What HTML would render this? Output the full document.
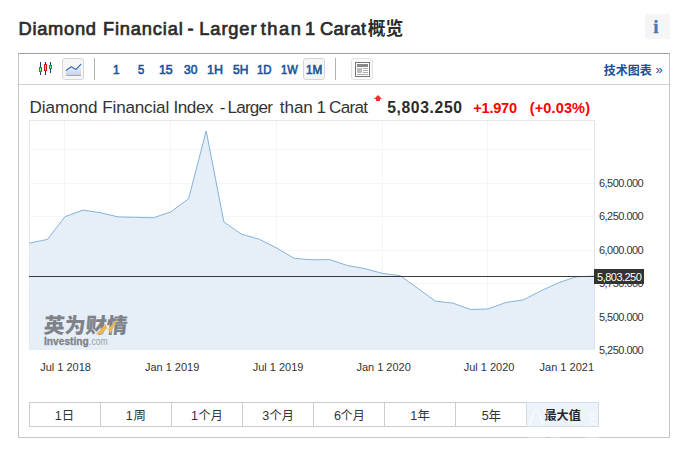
<!DOCTYPE html>
<html lang="zh"><head><meta charset="utf-8"><title>Diamond Financial - Larger than 1 Carat</title>
<style>
html,body{margin:0;padding:0;background:#fff}
body{width:686px;height:453px;position:relative;overflow:hidden;font-family:"Liberation Sans",sans-serif;color:#333}
.abs,.cjk,.yl,.xl,.rb{position:absolute}
.cjk{overflow:visible;display:block}
.cjk text{font-family:"Liberation Sans","Noto Sans CJK SC",sans-serif}
h1{margin:0;font-size:inherit;font-weight:inherit}
.w{position:absolute;line-height:40px;white-space:nowrap}
.info{left:645px;top:14px;width:25px;height:25px;background:#f5f5f5;border-radius:2px}
.info span{position:absolute;left:0;top:0.3px;width:22px;font-family:"Liberation Serif",serif;font-weight:bold;font-size:19px;line-height:25px;text-align:center;color:#4877b4;-webkit-text-stroke:0.3px #4877b4}
.box{left:18px;top:53px;width:650px;height:383px;border:1px solid #c6c6c6;border-top-color:#a0a0a0}
.tbar{left:19px;top:54px;width:650px;height:30px;border-bottom:1px solid #cfcfcf}
.btn{top:58px;width:20px;height:20px;border:1px solid #d6d6d6;border-radius:3px;background:#f6f6f6}
.sep{top:58px;width:1px;height:22px;background:#b0b0b0}
.yl{left:599px;font-size:11px;line-height:14px;color:#333;white-space:nowrap;letter-spacing:-0.53px}
.xl{top:360px;width:80px;text-align:center;font-size:11px;line-height:14px;color:#333;white-space:nowrap}
.plabel{left:593.6px;top:269px;width:50.4px;height:14.3px;padding-top:0.7px;background:#333;color:#fff;font-size:11px;line-height:15px;text-indent:3.5px;white-space:nowrap;letter-spacing:-0.53px;overflow:hidden}
.rb{top:402px;height:23px;border:1px solid #ccc;border-right:none;background:#fff}
.rb.sel{background:#edf3fb;border:1px solid #d6dce6}
</style></head>
<body>
<h1><span class="w" style="left:18.54px;top:8.76px;font-weight:normal;font-size:18.3px;letter-spacing:0.720px;color:#2b2b2b;-webkit-text-stroke:0.68px #2b2b2b">Diamond</span>
<span class="w" style="left:102.94px;top:8.76px;font-weight:normal;font-size:18.3px;letter-spacing:0.840px;color:#2b2b2b;-webkit-text-stroke:0.68px #2b2b2b">Financial</span>
<span class="w" style="left:187.55px;top:8.76px;font-weight:normal;font-size:18.3px;letter-spacing:0.000px;color:#2b2b2b;-webkit-text-stroke:0.68px #2b2b2b">-</span>
<span class="w" style="left:199.34px;top:8.76px;font-weight:normal;font-size:18.3px;letter-spacing:0.864px;color:#2b2b2b;-webkit-text-stroke:0.68px #2b2b2b">Larger</span>
<span class="w" style="left:260.74px;top:8.76px;font-weight:normal;font-size:18.3px;letter-spacing:1.507px;color:#2b2b2b;-webkit-text-stroke:0.68px #2b2b2b">than</span>
<span class="w" style="left:304.90px;top:8.76px;font-weight:normal;font-size:18.3px;letter-spacing:0.000px;color:#2b2b2b;-webkit-text-stroke:0.68px #2b2b2b">1</span>
<span class="w" style="left:319.94px;top:8.76px;font-weight:normal;font-size:18.3px;letter-spacing:0.330px;color:#2b2b2b;-webkit-text-stroke:0.68px #2b2b2b">Carat</span></h1>
<svg class="cjk" role="img" aria-label="概览" style="left:366.30px;top:18.10px" width="38.40" height="20.20" viewBox="0 0 38.40 20.20"><text x="1.7" y="16.6" font-size="17.8" font-weight="bold" fill="#2b2b2b">概览</text></svg>
<div class="abs info"><span>i</span></div>
<div class="abs box"></div>
<div class="abs tbar"></div>

<svg class="abs" style="left:38px;top:61px" width="16" height="16" viewBox="38 61 16 16" shape-rendering="crispEdges">
<rect x="40" y="62" width="1" height="13" fill="#1d3a6e"/><rect x="45" y="62" width="1" height="13" fill="#1d3a6e"/><rect x="50" y="62" width="1" height="11" fill="#1d3a6e"/>
<rect x="39" y="67" width="3" height="5" fill="#13a013"/><rect x="40" y="68" width="1" height="3" fill="#9be39b"/>
<rect x="44" y="64" width="3" height="7" fill="#d01818"/><rect x="45" y="65" width="1" height="5" fill="#f4a0a0"/>
<rect x="49" y="65" width="3" height="4" fill="#13a013"/><rect x="50" y="66" width="1" height="2" fill="#9be39b"/>
</svg>

<div class="abs btn" style="left:62px"></div>
<svg class="abs" style="left:62px;top:58px" width="22" height="22" viewBox="62 58 22 22">
<defs><linearGradient id="ag" x1="0" y1="0" x2="0" y2="1"><stop offset="0" stop-color="#f4f6fc"/><stop offset="1" stop-color="#c6d3ef"/></linearGradient></defs>
<path d="M66 70.4 L71.2 66.9 L76 69.6 L81 64.4 L81 75 L66 75 Z" fill="url(#ag)"/>
<rect x="66" y="75" width="15" height="1" fill="#a8a8a8"/>
<path d="M66.2 70.2 L71.2 66.8 L76 69.4 L80.8 64.4" fill="none" stroke="#3568b2" stroke-width="1.15" stroke-linecap="round" stroke-linejoin="round"/>
</svg>
<div class="abs sep" style="left:94px"></div>

<div class="abs btn" style="left:303px"></div>
<span class="w" style="left:113.03px;top:50.43px;font-weight:normal;font-size:13.2px;letter-spacing:0.000px;color:#1b5398;-webkit-text-stroke:0.65px #1b5398;transform:scaleX(0.8917);transform-origin:0 0">1</span>
<span class="w" style="left:138.32px;top:50.43px;font-weight:normal;font-size:13.2px;letter-spacing:0.000px;color:#1b5398;-webkit-text-stroke:0.65px #1b5398;transform:scaleX(0.8500);transform-origin:0 0">5</span>
<span class="w" style="left:159.19px;top:50.43px;font-weight:normal;font-size:13.2px;letter-spacing:0.000px;color:#1b5398;-webkit-text-stroke:0.65px #1b5398;transform:scaleX(0.9346);transform-origin:0 0">15</span>
<span class="w" style="left:183.92px;top:50.43px;font-weight:normal;font-size:13.2px;letter-spacing:0.000px;color:#1b5398;-webkit-text-stroke:0.65px #1b5398;transform:scaleX(0.9107);transform-origin:0 0">30</span>
<span class="w" style="left:207.28px;top:50.43px;font-weight:normal;font-size:13.2px;letter-spacing:0.000px;color:#1b5398;-webkit-text-stroke:0.65px #1b5398;transform:scaleX(0.9433);transform-origin:0 0">1H</span>
<span class="w" style="left:232.72px;top:50.43px;font-weight:normal;font-size:13.2px;letter-spacing:0.000px;color:#1b5398;-webkit-text-stroke:0.65px #1b5398;transform:scaleX(0.9094);transform-origin:0 0">5H</span>
<span class="w" style="left:257.16px;top:50.43px;font-weight:normal;font-size:13.2px;letter-spacing:0.000px;color:#1b5398;-webkit-text-stroke:0.65px #1b5398;transform:scaleX(0.8656);transform-origin:0 0">1D</span>
<span class="w" style="left:280.78px;top:50.43px;font-weight:normal;font-size:13.2px;letter-spacing:0.000px;color:#1b5398;-webkit-text-stroke:0.65px #1b5398;transform:scaleX(0.8447);transform-origin:0 0">1W</span>
<span class="w" style="left:306.03px;top:50.43px;font-weight:normal;font-size:13.2px;letter-spacing:0.000px;color:#1b5398;-webkit-text-stroke:0.65px #1b5398;transform:scaleX(0.8912);transform-origin:0 0">1M</span>
<div class="abs sep" style="left:335px"></div>
<div class="abs btn" style="left:351px;border-color:#e2e2e2;background:#fafafa"></div>
<svg class="abs" style="left:355px;top:62px" width="15" height="15" viewBox="355 62 15 15" shape-rendering="crispEdges">
<rect x="355.5" y="62.5" width="14" height="14" fill="#fff" stroke="#777" stroke-width="1"/>
<rect x="357" y="64" width="11" height="3" fill="#8a8a8a"/>
<rect x="357" y="68" width="5" height="5" fill="#bdbdbd"/>
<rect x="363" y="68" width="5" height="1" fill="#aaa"/><rect x="363" y="70" width="5" height="1" fill="#aaa"/><rect x="363" y="72" width="5" height="1" fill="#aaa"/>
<rect x="357" y="74" width="11" height="1" fill="#aaa"/>
</svg>

<svg class="cjk" role="img" aria-label="技术图表" style="left:601.60px;top:62.50px" width="51.30" height="15.40" viewBox="0 0 51.30 15.40"><text x="1.7" y="12.3" font-size="12" font-weight="bold" fill="#17519a">技术图表</text></svg>
<span class="abs" style="left:655.5px;top:62.4px;font-size:13px;line-height:16px;color:#1b4f91">»</span>

<div class="hdw"><span class="w" style="left:29.60px;top:88.07px;font-weight:normal;font-size:17.1px;letter-spacing:-0.083px;color:#333">Diamond</span>
<span class="w" style="left:102.30px;top:88.07px;font-weight:normal;font-size:17.1px;letter-spacing:-0.187px;color:#333">Financial</span>
<span class="w" style="left:173.50px;top:88.07px;font-weight:normal;font-size:17.1px;letter-spacing:-0.450px;color:#333">Index</span>
<span class="w" style="left:219.70px;top:88.07px;font-weight:normal;font-size:17.1px;letter-spacing:0.000px;color:#333">-</span>
<span class="w" style="left:227.60px;top:88.07px;font-weight:normal;font-size:17.1px;letter-spacing:-0.820px;color:#333">Larger</span>
<span class="w" style="left:279.80px;top:88.07px;font-weight:normal;font-size:17.1px;letter-spacing:-0.067px;color:#333">than</span>
<span class="w" style="left:316.40px;top:88.07px;font-weight:normal;font-size:17.1px;letter-spacing:0.000px;color:#333">1</span>
<span class="w" style="left:329.00px;top:88.07px;font-weight:normal;font-size:17.1px;letter-spacing:-0.700px;color:#333">Carat</span>
<span class="w" style="left:387.20px;top:87.86px;font-weight:bold;font-size:15.7px;letter-spacing:0.625px;color:#2b2b2b">5,803.250</span>
<span class="w" style="left:473.20px;top:88.24px;font-weight:bold;font-size:14.6px;letter-spacing:-0.220px;color:#f00">+1.970</span>
<span class="w" style="left:529.80px;top:88.24px;font-weight:bold;font-size:14.6px;letter-spacing:0.086px;color:#f00">(+0.03%)</span></div>
<svg class="abs" style="left:374px;top:95px" width="8" height="6" viewBox="0 0 8 6"><path d="M4 0 L8 3.9 L6 3.9 L6 6 L2 6 L2 3.9 L0 3.9 Z" fill="#ee2f2f"/></svg>

<svg class="abs" style="left:0;top:0" width="686" height="453" viewBox="0 0 686 453">
<path d="M29.5 350 V120.5 H594.5" fill="none" stroke="#e4e7ee" stroke-width="1"/>
<g shape-rendering="crispEdges"><rect x="29" y="149" width="565" height="1" fill="#f4f5f7"/><rect x="29" y="183" width="565" height="1" fill="#f4f5f7"/><rect x="29" y="216" width="565" height="1" fill="#f4f5f7"/><rect x="29" y="250" width="565" height="1" fill="#f4f5f7"/><rect x="29" y="283" width="565" height="1" fill="#f4f5f7"/><rect x="29" y="317" width="565" height="1" fill="#f4f5f7"/><rect x="64" y="121" width="1" height="229" fill="#f4f5f7"/><rect x="170" y="121" width="1" height="229" fill="#f4f5f7"/><rect x="276" y="121" width="1" height="229" fill="#f4f5f7"/><rect x="382" y="121" width="1" height="229" fill="#f4f5f7"/><rect x="487" y="121" width="1" height="229" fill="#f4f5f7"/></g>
<path d="M29.5 243.1 L47.5 239.4 L65.0 216.7 L83.0 210.1 L100.4 212.7 L118.0 216.9 L135.6 217.3 L153.4 217.8 L171.0 211.8 L188.6 198.8 L206.2 130.9 L223.9 222.0 L241.5 234.2 L259.2 239.2 L276.8 248.1 L294.4 258.4 L312.1 259.8 L329.7 259.6 L347.3 265.5 L364.9 268.7 L382.6 273.4 L400.2 275.7 L417.8 288.4 L435.4 301.1 L453.0 303.2 L470.6 309.5 L488.2 309.0 L505.8 302.5 L523.4 299.9 L541.0 290.8 L558.6 282.7 L576.2 276.8 L594.0 276.1 L595 276.1 L595 350 L29 350 L29 243.2 Z" fill="#dfe9f5" fill-opacity="0.78"/>
<path d="M29.5 243.1 L47.5 239.4 L65.0 216.7 L83.0 210.1 L100.4 212.7 L118.0 216.9 L135.6 217.3 L153.4 217.8 L171.0 211.8 L188.6 198.8 L206.2 130.9 L223.9 222.0 L241.5 234.2 L259.2 239.2 L276.8 248.1 L294.4 258.4 L312.1 259.8 L329.7 259.6 L347.3 265.5 L364.9 268.7 L382.6 273.4 L400.2 275.7 L417.8 288.4 L435.4 301.1 L453.0 303.2 L470.6 309.5 L488.2 309.0 L505.8 302.5 L523.4 299.9 L541.0 290.8 L558.6 282.7 L576.2 276.8 L594.0 276.1" fill="none" stroke="#84b3dc" stroke-width="1" stroke-linejoin="round"/>
<rect x="594" y="120" width="1" height="230" fill="#dfe4ed" shape-rendering="crispEdges"/>
<rect x="29" y="276" width="566" height="1" fill="#3a3a3a" shape-rendering="crispEdges"/>
</svg>
<div class="yl" style="top:176px">6,500.000</div><div class="yl" style="top:209px">6,250.000</div><div class="yl" style="top:243px">6,000.000</div><div class="yl" style="top:276px">5,750.000</div><div class="yl" style="top:310px">5,500.000</div><div class="yl" style="top:343px">5,250.000</div>
<div class="abs plabel">5,803.250</div>
<div class="xl" style="left:25.6px">Jul 1 2018</div><div class="xl" style="left:132.1px">Jan 1 2019</div><div class="xl" style="left:238.1px">Jul 1 2019</div><div class="xl" style="left:343.6px">Jan 1 2020</div><div class="xl" style="left:449.1px">Jul 1 2020</div><div class="xl" style="left:514px;text-align:right">Jan 1 2021</div>

<svg class="cjk" role="img" aria-label="英为财情" style="left:43.4px;top:311.8px;" width="84.32" height="27.82" viewBox="0 0 84.32 27.82"><text transform="translate(2.0 0) skewX(-5) translate(0 21.4)" x="0" y="0" font-size="21" font-weight="900" fill="#7f8288">英为财情</text></svg>
<svg class="abs" style="left:94px;top:316px" width="26" height="20" viewBox="94 316 26 20"><path d="M96 334.5 L105.5 324 L108 329.5 L118 317.8 L110.5 333.5 L107.3 328 L101.5 334.5 Z" fill="#e9b755"/></svg>
<span class="w" style="left:44.15px;top:320.53px;font-weight:bold;font-size:10.6px;letter-spacing:0.000px;color:#808389;-webkit-text-stroke:0.3px #808389;transform:scaleX(0.9630);transform-origin:0 0">Investing</span>
<span class="w" style="left:88.99px;top:320.53px;font-weight:normal;font-size:10.6px;letter-spacing:0.000px;color:#9a9ea5;transform:scaleX(0.8091);transform-origin:0 0">.com</span>

<div class="rb" style="left:29px;width:70px"></div><svg class="cjk" role="img" aria-label="日" style="left:62.10px;top:409.00px" width="12.70" height="13.60" viewBox="0 0 12.70 13.60"><text x="-0.3" y="10.8" font-size="12.5" fill="#333">日</text></svg><div class="rb" style="left:100px;width:70px"></div><svg class="cjk" role="img" aria-label="周" style="left:131.70px;top:407.80px" width="14.50" height="15.10" viewBox="0 0 14.50 15.10"><text x="1.6" y="12" font-size="12.4" fill="#333">周</text></svg><div class="rb" style="left:171px;width:70px"></div><svg class="cjk" role="img" aria-label="个月" style="left:197.10px;top:407.70px" width="25.60" height="15.10" viewBox="0 0 25.60 15.10"><text x="1.6" y="12.1" font-size="12.1" fill="#333">个月</text></svg><div class="rb" style="left:242px;width:70px"></div><svg class="cjk" role="img" aria-label="个月" style="left:267.90px;top:407.70px" width="25.90" height="15.10" viewBox="0 0 25.90 15.10"><text x="1.6" y="12.1" font-size="12.2" fill="#333">个月</text></svg><div class="rb" style="left:313px;width:70px"></div><svg class="cjk" role="img" aria-label="个月" style="left:339.40px;top:407.70px" width="25.60" height="15.10" viewBox="0 0 25.60 15.10"><text x="1.6" y="12.1" font-size="12.1" fill="#333">个月</text></svg><div class="rb" style="left:384px;width:70px"></div><svg class="cjk" role="img" aria-label="年" style="left:415.90px;top:407.70px" width="15.40" height="15.30" viewBox="0 0 15.40 15.30"><text x="1.4" y="12.3" font-size="12.5" fill="#333">年</text></svg><div class="rb" style="left:455px;width:70px"></div><svg class="cjk" role="img" aria-label="年" style="left:487.10px;top:407.70px" width="15.60" height="15.30" viewBox="0 0 15.60 15.30"><text x="1.4" y="12.3" font-size="12.6" fill="#333">年</text></svg><div class="rb sel" style="left:526px;width:71px"></div><svg class="cjk" role="img" aria-label="最大值" style="left:543.20px;top:407.50px" width="39.40" height="15.50" viewBox="0 0 39.40 15.50"><text x="1.5" y="12.4" font-size="12.1" font-weight="bold" fill="#262626">最大值</text></svg><span class="w" style="left:54.80px;top:395.63px;font-weight:normal;font-size:12.6px;letter-spacing:0.000px;color:#333">1</span>
<span class="w" style="left:125.75px;top:395.63px;font-weight:normal;font-size:12.6px;letter-spacing:0.000px;color:#333">1</span>
<span class="w" style="left:191.05px;top:395.63px;font-weight:normal;font-size:12.6px;letter-spacing:0.000px;color:#333">1</span>
<span class="w" style="left:262.15px;top:395.63px;font-weight:normal;font-size:12.6px;letter-spacing:0.000px;color:#333">3</span>
<span class="w" style="left:334.00px;top:395.63px;font-weight:normal;font-size:12.6px;letter-spacing:0.000px;color:#333">6</span>
<span class="w" style="left:410.35px;top:395.63px;font-weight:normal;font-size:12.6px;letter-spacing:0.000px;color:#333">1</span>
<span class="w" style="left:481.85px;top:395.63px;font-weight:normal;font-size:12.6px;letter-spacing:0.000px;color:#333">5</span>
<svg class="abs" style="left:520px;top:398px" width="90" height="42" viewBox="520 398 90 42" aria-hidden="true">
<g fill="none" stroke="#fff" stroke-opacity="0.55" stroke-linecap="round" stroke-linejoin="round">
<circle cx="536" cy="405.6" r="1.2" fill="#fff" fill-opacity="0.6" stroke="none"/>
<path d="M529.3 425 L535 410.2 M537.2 410.2 L543 424.5" stroke-width="1.8"/>
<path d="M547.6 411 V421.5" stroke-width="1.6" stroke-opacity="0.5"/>
<path d="M589 414.5 H597.5 M590 418.5 H597 M593 411.5 L591 425 M589.5 422 L597.5 425.5" stroke-width="1.3" stroke-opacity="0.5"/>
<path d="M528 437.5 H545 M552 437.5 H560 M586 437.5 H598" stroke-width="1" stroke-opacity="0.35"/>
</g></svg>
</body></html>
